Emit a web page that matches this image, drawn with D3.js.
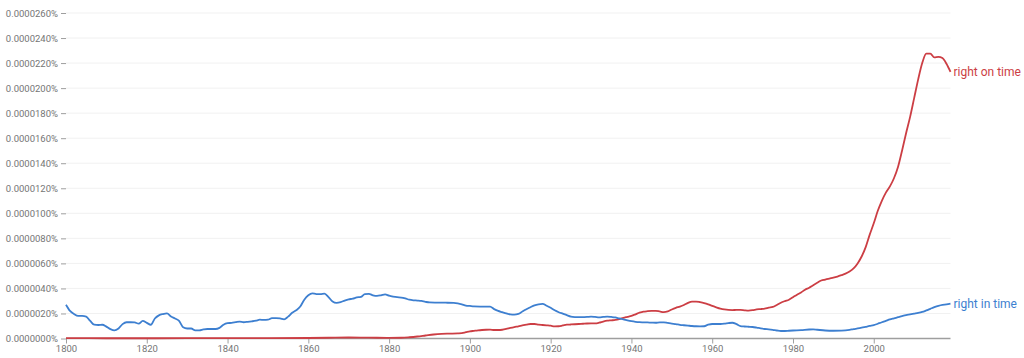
<!DOCTYPE html>
<html>
<head>
<meta charset="utf-8">
<script src="https://cdn.jsdelivr.net/npm/d3@7"></script>
<style>
  html, body { margin: 0; padding: 0; background: #ffffff; }
  svg { display: block; font-family: Roboto, "Noto Sans", sans-serif; }
</style>
</head>
<body>
<svg id="chart" width="1024" height="358"></svg>
<script>
// ---- data (values in percent) ----
const seriesNames = ["right on time", "right in time"];
const seriesColors = ["#cc3e44", "#3d7fd0"];

const redYears = [1800,1810,1820,1830,1840,1850,1860,1865,1870,1875,1880,1883,1885,1887,1889,1891,1893,1895,1897,1898,1899,
  1900,1901,1902,1903,1904,1905,1906,1907,1908,1909,1910,1911,1912,1913,1914,1915,1916,1917,1918,1919,
  1920,1921,1922,1923,1924,1925,1926,1927,1928,1929,1930,1931,1932,1933,1934,1935,1936,1937,1938,1939,
  1940,1941,1942,1943,1944,1945,1946,1947,1948,1949,1950,1951,1952,1953,1954,1955,1956,1957,1958,1959,
  1960,1961,1962,1963,1964,1965,1966,1967,1968,1969,1970,1971,1972,1973,1974,1975,1976,1977,1978,1979,
  1980,1981,1982,1983,1984,1985,1986,1987,1988,1989,1990,1991,1992,1993,1994,1995,1996,1997,1998,1999,
  2000,2001,2002,2003,2004,2005,2006,2007,2008,2009,2010,2011,2012,2013,2014,2015,2016,2017,2018,2019];
const redValues = [0.3e-7,0.2e-7,0.2e-7,0.3e-7,0.3e-7,0.3e-7,0.4e-7,0.6e-7,0.8e-7,0.7e-7,0.5e-7,0.6e-7,1.0e-7,1.6e-7,2.4e-7,3.2e-7,3.7e-7,3.9e-7,4.1e-7,4.3e-7,5.0e-7,
  5.7e-7,6.1e-7,6.5e-7,6.8e-7,7.0e-7,7.1e-7,6.8e-7,6.8e-7,7.0e-7,7.6e-7,8.4e-7,9.1e-7,9.7e-7,10.4e-7,11.0e-7,11.6e-7,11.6e-7,11.1e-7,10.8e-7,10.5e-7,
  10.2e-7,9.7e-7,9.8e-7,10.4e-7,11.0e-7,11.2e-7,11.4e-7,11.6e-7,11.8e-7,12.0e-7,12.1e-7,12.1e-7,12.6e-7,13.5e-7,14.2e-7,14.5e-7,14.8e-7,15.5e-7,16.5e-7,17.3e-7,
  18.1e-7,19.3e-7,20.6e-7,21.5e-7,21.8e-7,22.0e-7,22.1e-7,21.6e-7,21.0e-7,21.6e-7,23.2e-7,24.5e-7,25.5e-7,26.8e-7,28.5e-7,29.5e-7,29.5e-7,29.0e-7,28.3e-7,27.3e-7,
  26.0e-7,24.9e-7,23.9e-7,23.2e-7,22.8e-7,22.7e-7,22.8e-7,22.8e-7,22.5e-7,22.3e-7,22.6e-7,23.2e-7,23.5e-7,23.9e-7,24.6e-7,25.2e-7,26.8e-7,28.6e-7,29.9e-7,31.0e-7,
  33.0e-7,35.0e-7,36.8e-7,39.0e-7,40.6e-7,42.6e-7,44.5e-7,46.3e-7,47.1e-7,47.9e-7,48.6e-7,49.5e-7,50.6e-7,51.8e-7,53.5e-7,56.0e-7,60.0e-7,65.5e-7,73.0e-7,83.0e-7,
  92e-7,102e-7,110e-7,116.5e-7,121.5e-7,128e-7,137e-7,150e-7,164e-7,177e-7,192e-7,207e-7,220e-7,227.5e-7,227.5e-7,224.5e-7,225e-7,224e-7,219.5e-7,213e-7];

const blueYears = [1800,1801,1802,1803,1804,1805,1806,1807,1808,1809,1810,1811,1812,1813,1814,1815,1816,1817,1818,1819,
  1820,1821,1822,1823,1824,1825,1826,1827,1828,1829,1830,1831,1832,1833,1834,1835,1836,1837,1838,1839,
  1840,1841,1842,1843,1844,1845,1846,1847,1848,1849,1850,1851,1852,1853,1854,1855,1856,1857,1858,1859,
  1860,1861,1862,1863,1864,1865,1866,1867,1868,1869,1870,1871,1872,1873,1874,1875,1876,1877,1878,1879,
  1880,1881,1882,1883,1884,1885,1886,1887,1888,1889,1890,1892,1894,1896,1897,1898,1899,
  1900,1901,1903,1905,1906,1907,1908,1909,1910,1911,1912,1913,1914,1915,1916,1917,1918,1919,
  1920,1921,1922,1923,1924,1925,1926,1927,1928,1929,1930,1931,1932,1933,1934,1935,1936,1937,1938,1939,
  1940,1941,1942,1943,1944,1945,1946,1947,1948,1949,1950,1951,1952,1953,1954,1955,1956,1957,1958,1959,
  1960,1961,1962,1963,1964,1965,1966,1967,1968,1969,1970,1971,1972,1973,1974,1975,1976,1977,1978,1979,
  1980,1982,1984,1985,1986,1988,1990,1992,1994,1995,1996,1997,1998,1999,
  2000,2001,2002,2003,2004,2005,2006,2007,2008,2009,2010,2011,2012,2013,2014,2015,2016,2017,2018,2019];
const blueValues = [27e-7,22e-7,19.5e-7,18e-7,18e-7,17.5e-7,14e-7,11e-7,10.8e-7,11e-7,9.5e-7,7.5e-7,6.5e-7,8e-7,11.5e-7,13e-7,13e-7,12.8e-7,11.9e-7,14e-7,
  12.5e-7,11e-7,16e-7,18.5e-7,19.5e-7,20e-7,17.5e-7,16e-7,14e-7,9e-7,8e-7,8e-7,6.5e-7,6.5e-7,7.2e-7,7.6e-7,7.6e-7,7.6e-7,8.5e-7,11e-7,
  12.2e-7,12.5e-7,13e-7,13.5e-7,13e-7,13.3e-7,13.7e-7,14.2e-7,15e-7,14.8e-7,15e-7,16.2e-7,16.2e-7,16e-7,15.3e-7,17.5e-7,20.5e-7,22.5e-7,25.5e-7,31e-7,
  34.5e-7,36e-7,35.5e-7,35.5e-7,35.8e-7,33e-7,29.5e-7,28.4e-7,29e-7,30.3e-7,31.3e-7,31.8e-7,32.8e-7,33.2e-7,35.5e-7,35.6e-7,34.5e-7,34e-7,34.5e-7,35.3e-7,
  34.2e-7,33.5e-7,33e-7,32.7e-7,32e-7,31e-7,30.5e-7,30.3e-7,30e-7,29.3e-7,28.8e-7,28.7e-7,28.6e-7,28.4e-7,28e-7,27.3e-7,26.3e-7,
  26e-7,25.7e-7,25.5e-7,25.4e-7,23.5e-7,22e-7,21e-7,20e-7,19.2e-7,19e-7,19.6e-7,21.5e-7,23.3e-7,25e-7,26.5e-7,27.3e-7,27.6e-7,26.2e-7,
  24.5e-7,22.5e-7,21e-7,19.8e-7,18.6e-7,17.5e-7,17.1e-7,17e-7,17.1e-7,17.2e-7,17.5e-7,17.2e-7,16.8e-7,17.2e-7,17.5e-7,17.2e-7,16.8e-7,16e-7,15.3e-7,14.5e-7,
  13.8e-7,13.3e-7,13e-7,12.9e-7,12.8e-7,12.7e-7,12.6e-7,12.9e-7,12.9e-7,12.4e-7,11.9e-7,11.5e-7,10.9e-7,10.6e-7,10.3e-7,10e-7,9.8e-7,9.7e-7,9.8e-7,11e-7,
  11.6e-7,11.6e-7,11.6e-7,11.8e-7,12.3e-7,12.6e-7,11.5e-7,9.9e-7,9.6e-7,9.4e-7,9.2e-7,8.7e-7,8.1e-7,7.6e-7,7.3e-7,6.9e-7,6.4e-7,6.0e-7,6.0e-7,6.2e-7,
  6.4e-7,6.7e-7,7.2e-7,7.3e-7,7.0e-7,6.4e-7,6.2e-7,6.3e-7,6.9e-7,7.5e-7,8.0e-7,8.6e-7,9.3e-7,10e-7,
  10.6e-7,11.8e-7,13e-7,14.1e-7,15.2e-7,16.1e-7,17e-7,17.9e-7,18.7e-7,19.2e-7,19.8e-7,20.4e-7,21.2e-7,22.4e-7,23.7e-7,25e-7,26.1e-7,26.9e-7,27.2e-7,27.8e-7];

const yTickValues = [0, 2e-6, 4e-6, 6e-6, 8e-6, 10e-6, 12e-6, 14e-6, 16e-6, 18e-6, 20e-6, 22e-6, 24e-6, 26e-6];
const xTickValues = [1800, 1820, 1840, 1860, 1880, 1900, 1920, 1940, 1960, 1980, 2000];

(function () {
  const svg = d3.select("#chart");
  const mLeft = 66, mRight = 950.5, mTop = 13, mBottom = 338.5;

  const x = d3.scaleLinear().domain([1800, 2019]).range([mLeft, mRight]);
  const y = d3.scaleLinear().domain([0, 26e-6]).range([mBottom, mTop]);

  const labelColor = "#757575";

  // gridlines
  svg.append("g").selectAll("line").data(yTickValues.slice(1)).join("line")
    .attr("x1", mLeft).attr("x2", mRight)
    .attr("y1", d => y(d)).attr("y2", d => y(d))
    .attr("stroke", "#f1f1f1").attr("stroke-width", 1);

  // y axis
  const yAxis = d3.axisLeft(y).tickValues(yTickValues).tickSize(5).tickPadding(3)
    .tickFormat(d => d3.format(".7f")(d) + "%");
  const gy = svg.append("g").attr("transform", `translate(${mLeft},0)`).call(yAxis);
  gy.select(".domain").remove();
  gy.selectAll(".tick line").attr("stroke", "#9e9e9e");
  gy.selectAll(".tick text").attr("fill", labelColor).style("font-size", "9.5px").style("font-family", "Roboto, sans-serif");

  // x axis
  const xAxis = d3.axisBottom(x).tickValues(xTickValues).tickSize(5).tickPadding(2).tickFormat(d3.format("d"));
  const gx = svg.append("g").attr("transform", `translate(0,${mBottom})`).call(xAxis);
  gx.select(".domain").attr("stroke", "#9e9e9e").attr("stroke-width", 1.5)
    .attr("d", `M${mLeft},0H${mRight}`);
  gx.selectAll(".tick line").attr("stroke", "#9e9e9e");
  gx.selectAll(".tick text").attr("fill", labelColor).style("font-size", "9.5px").style("font-family", "Roboto, sans-serif");

  // lines
  const line = d3.line().x(d => x(d[0])).y(d => y(d[1])).curve(d3.curveMonotoneX);
  const series = [
    { name: seriesNames[0], color: seriesColors[0], pts: d3.zip(redYears, redValues) },
    { name: seriesNames[1], color: seriesColors[1], pts: d3.zip(blueYears, blueValues) }
  ];

  svg.append("g").selectAll("path").data(series).join("path")
    .attr("d", d => line(d.pts))
    .attr("fill", "none")
    .attr("stroke", d => d.color)
    .attr("stroke-width", 1.8)
    .attr("stroke-linejoin", "round");

  // end labels
  svg.append("g").selectAll("text").data(series).join("text")
    .attr("x", d => x(d.pts[d.pts.length - 1][0]) + 3)
    .attr("y", d => y(d.pts[d.pts.length - 1][1]))
    .attr("dy", "0.35em")
    .attr("fill", d => d.color)
    .style("font-size", "12px")
    .style("font-family", "Roboto, sans-serif")
    .text(d => d.name);
})();
</script>
</body>
</html>
